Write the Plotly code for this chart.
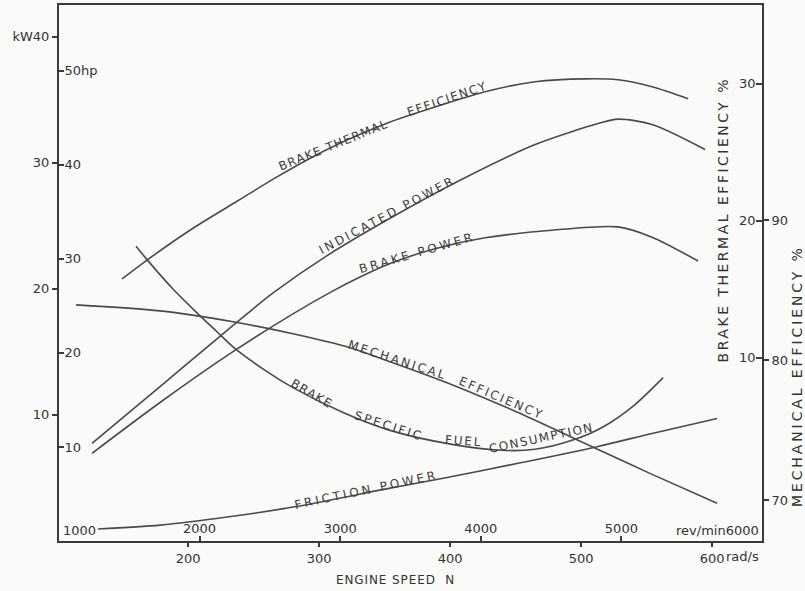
import plotly.graph_objects as go

# ---------------- data (engine speed in rad/s) ----------------
bte_speed = [149.6, 168.7, 203.8, 237.4, 267.9, 306.1, 354.2, 375.5, 426.7, 464.9, 503.0, 528.2, 554.2, 581.7]
bte_pct = [15.75, 17.13, 19.45, 21.42, 23.2, 25.2, 27.2, 27.9, 29.42, 30.15, 30.36, 30.29, 29.78, 28.91]

ip_speed = [126.7, 178.6, 222.1, 245.0, 264.9, 306.1, 354.2, 406.1, 464.9, 513.0, 528.2, 554.2, 594.6]
ip_kw = [7.74, 12.24, 16.03, 18.01, 19.67, 22.63, 25.59, 28.52, 31.44, 33.10, 33.45, 33.02, 31.04]

bp_speed = [126.7, 178.6, 234.3, 280.1, 310.7, 331.3, 354.2, 388.5, 426.7, 477.8, 528.2, 554.2, 589.3]
bp_kw = [6.95, 10.98, 15.01, 18.01, 19.83, 20.93, 22.0, 23.18, 24.04, 24.64, 24.91, 24.09, 22.2]

fp_speed = [131.3, 178.6, 229.7, 280.1, 354.2, 390.8, 451.9, 513.0, 554.2, 603.8]
fp_kw = [0.95, 1.26, 1.9, 2.69, 4.19, 4.9, 6.16, 7.5, 8.53, 9.72]

me_speed = [114.5, 178.6, 234.3, 280.1, 323.6, 354.2, 401.5, 451.9, 493.1, 513.0, 554.2, 603.8]
me_pct = [83.94, 83.51, 82.73, 81.87, 80.88, 79.88, 78.24, 76.25, 74.47, 73.61, 71.83, 69.77]

# brake specific fuel consumption has no scale on the chart: plotted in kW-axis units
bsfc_speed = [160.3, 168.7, 188.5, 206.8, 222.1, 234.3, 260.3, 280.1, 318.3, 354.2, 401.5, 439.7, 464.9, 493.1, 516.0, 541.2, 562.6]
bsfc_rel = [23.38, 22.31, 19.98, 18.09, 16.59, 15.40, 13.43, 12.16, 10.19, 8.77, 7.66, 7.19, 7.27, 7.98, 9.0, 10.82, 12.95]

# ---------------- tick definitions ----------------
rads_ticks = [200, 300, 400, 500, 600]
rads_text = ["200", "300", "400", "500", "600"]
rpm_ticks = [2000, 3000, 4000, 5000]
rpm_text = ["2000", "3000", "4000", "5000"]
kw_ticks = [0, 10, 20, 30, 40]
kw_text = ["0", "10", "20", "30", "kW40"]
hp_ticks = [10, 20, 30, 40, 50]
hp_text = ["10", "20", "30", "40", "50hp"]
bte_ticks = [10, 20, 30]
me_ticks = [70, 80, 90]

INK = "#4a4a4a"
AX = "#3a3a3a"
BG = "#fafaf8"
FONT = "DejaVu Sans"

fig = go.Figure()
line = dict(color=INK, width=1.6, shape="spline", smoothing=0.8)
fig.add_trace(go.Scatter(x=bte_speed, y=bte_pct, yaxis="y3", mode="lines", line=line, name="Brake thermal efficiency"))
fig.add_trace(go.Scatter(x=ip_speed, y=ip_kw, yaxis="y", mode="lines", line=line, name="Indicated power"))
fig.add_trace(go.Scatter(x=bp_speed, y=bp_kw, yaxis="y", mode="lines", line=line, name="Brake power"))
fig.add_trace(go.Scatter(x=fp_speed, y=fp_kw, yaxis="y", mode="lines", line=line, name="Friction power"))
fig.add_trace(go.Scatter(x=me_speed, y=me_pct, yaxis="y4", mode="lines", line=line, name="Mechanical efficiency"))
fig.add_trace(go.Scatter(x=bsfc_speed, y=bsfc_rel, yaxis="y", mode="lines", line=line, name="BSFC"))
# empty traces so the secondary scales (hp, rev/min) get drawn
fig.add_trace(go.Scatter(x=[None], y=[None], xaxis="x", yaxis="y2", mode="lines", hoverinfo="skip"))
fig.add_trace(go.Scatter(x=[None], y=[None], xaxis="x2", yaxis="y", mode="lines", hoverinfo="skip"))

tickfont = dict(family=FONT, size=13, color="#333333")

fig.update_layout(
    width=805, height=591,
    margin=dict(l=59, r=43, t=3, b=50),
    paper_bgcolor=BG, plot_bgcolor=BG,
    showlegend=False,
    xaxis=dict(range=[101.5, 638.1], tickvals=rads_ticks, ticktext=rads_text,
               ticks="outside", ticklen=4, tickcolor=AX, tickwidth=1.5,
               showline=True, linecolor=AX, linewidth=2, mirror=True,
               showgrid=False, zeroline=False, tickfont=tickfont),
    xaxis2=dict(overlaying="x", anchor="y", side="bottom", range=[1000, 6000],
                tickvals=rpm_ticks, ticktext=rpm_text, ticks="inside", ticklen=5,
                tickcolor=AX, tickwidth=1.5, ticklabelposition="inside",
                showline=False, showgrid=False, zeroline=False, tickfont=tickfont),
    yaxis=dict(range=[0, 42.5], tickvals=kw_ticks, ticktext=kw_text,
               ticks="outside", ticklen=5, tickcolor=AX, tickwidth=1.5,
               showline=True, linecolor=AX, linewidth=2, mirror=True,
               showgrid=False, zeroline=False, tickfont=tickfont),
    yaxis2=dict(overlaying="y", anchor="x", side="left", range=[0, 42.5 / 0.7457],
                tickvals=hp_ticks, ticktext=hp_text, ticks="inside", ticklen=5,
                tickcolor=AX, tickwidth=1.5, ticklabelposition="inside",
                showline=False, showgrid=False, zeroline=False, tickfont=tickfont),
    yaxis3=dict(overlaying="y", anchor="x", side="right", range=[-3.38, 35.75],
                tickvals=bte_ticks, ticks="inside", ticklen=6, tickcolor=AX, tickwidth=1.5,
                ticklabelposition="inside", showline=True, linecolor=AX, linewidth=2,
                showgrid=False, zeroline=False, tickfont=tickfont),
    yaxis4=dict(overlaying="y", anchor="x", side="right", range=[67.07, 105.36],
                tickvals=me_ticks, ticks="outside", ticklen=6, tickcolor=AX, tickwidth=1.5,
                showline=False, showgrid=False, zeroline=False, tickfont=tickfont),
)

def sp(t, ls):
    return f'<span style="letter-spacing:{ls}px">{t}</span>'

# curve labels: (text, paper x, paper y, angle, letter spacing)
curve_labels = [
    ("BRAKE THERMAL", 0.391, 0.739, -22, 1.2),
    ("EFFICIENCY", 0.552, 0.825, -19, 1.5),
    ("INDICATED POWER", 0.467, 0.608, -28, 2.6),
    ("BRAKE POWER", 0.509, 0.538, -16, 2.9),
    ("MECHANICAL", 0.481, 0.338, 18, 2.4),
    ("EFFICIENCY", 0.629, 0.267, 23, 2.2),
    ("BRAKE", 0.360, 0.275, 30, 1.2),
    ("SPECIFIC", 0.469, 0.214, 18, 2.3),
    ("FUEL", 0.575, 0.186, 4, 1.8),
    ("CONSUMPTION", 0.687, 0.193, -12, 1.5),
    ("FRICTION POWER", 0.437, 0.095, -12, 3.0),
]
ann = []
for t, x, y, a, ls in curve_labels:
    ann.append(dict(text=sp(t, ls), x=x, y=y, xref="paper", yref="paper", showarrow=False,
                    textangle=a, font=dict(family=FONT, size=12, color="#3c3c3c"),
                    xanchor="center", yanchor="middle"))

ann += [
    dict(text="1000", x=1000, xref="x2", y=0, yref="paper", xanchor="left", yanchor="bottom",
         xshift=2, yshift=1, showarrow=False, font=tickfont),
    dict(text="rev/min6000", x=6000, xref="x2", y=0, yref="paper", xanchor="right", yanchor="bottom",
         xshift=-1, yshift=1, showarrow=False, font=tickfont),
    dict(text="rad/s", x=600, xref="x", y=-0.012, yref="paper", xanchor="left", yanchor="top",
         xshift=12, showarrow=False, font=tickfont),
    dict(text=sp("ENGINE SPEED  N", 0.9), x=0.478, y=-0.072, xref="paper", yref="paper",
         showarrow=False, font=dict(family=FONT, size=12, color="#333333"),
         xanchor="center", yanchor="middle"),
    dict(text=sp("BRAKE THERMAL EFFICIENCY %", 2.5), x=0.9445, y=0.60, xref="paper", yref="paper",
         textangle=-90, showarrow=False, font=dict(family=FONT, size=14, color="#333333"),
         xanchor="center", yanchor="middle"),
    dict(text=sp("MECHANICAL EFFICIENCY %", 2.9), x=1.05, y=0.308, xref="paper", yref="paper",
         textangle=-90, showarrow=False, font=dict(family=FONT, size=14, color="#333333"),
         xanchor="center", yanchor="middle"),
]
fig.update_layout(annotations=ann)

fig.write_html("out.html")
